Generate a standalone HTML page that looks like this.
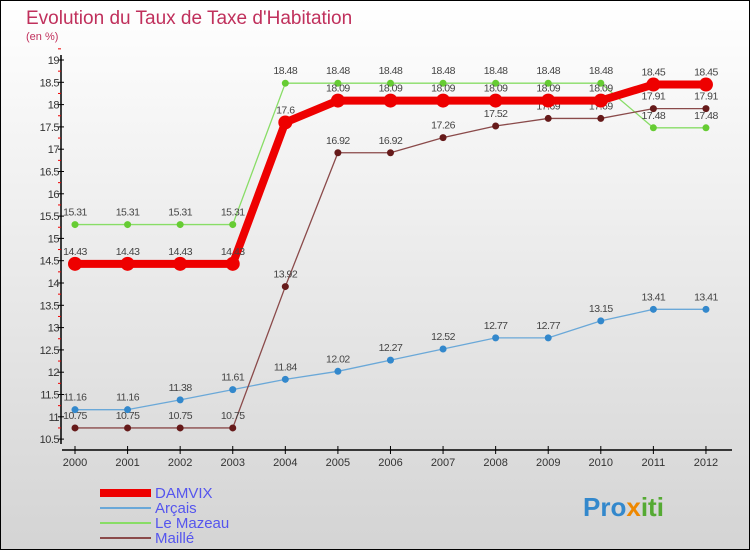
<!DOCTYPE html>
<html><head><meta charset="utf-8"><style>
html,body{margin:0;padding:0}
body{width:750px;height:550px;overflow:hidden;font-family:"Liberation Sans",sans-serif}
svg{display:block}
</style></head><body>
<svg id="c" width="750" height="550" xmlns="http://www.w3.org/2000/svg">
<defs><linearGradient id="bg" x1="0" y1="0" x2="0" y2="1"><stop offset="0" stop-color="#ffffff"/><stop offset="1" stop-color="#d4d4d4"/></linearGradient></defs>
<rect x="0.5" y="0.5" width="749" height="549" fill="url(#bg)" stroke="#000"/>
<text x="26" y="24" font-size="19" fill="#c0305c">Evolution du Taux de Taxe d'Habitation</text>
<text x="26" y="40" font-size="11" fill="#c0305c">(en %)</text>
<g id="axes"></g>
<g id="series"></g>
<g id="legend" font-size="15" fill="#5555ee">
<rect x="100" y="489" width="51" height="8" fill="#ee0000"/>
<text x="155" y="498">DAMVIX</text>
<rect x="100" y="507" width="51" height="2" fill="#6aa8d8"/>
<text x="155" y="513">Arçais</text>
<rect x="100" y="522" width="51" height="2" fill="#88dd66"/>
<text x="155" y="528">Le Mazeau</text>
<rect x="100" y="537" width="51" height="2" fill="#8a4a4a"/>
<text x="155" y="543">Maillé</text>
</g>
<g font-size="26" font-weight="bold">
<text x="583" y="516" fill="#3388cc">Pro<tspan fill="#ee8800">x</tspan><tspan fill="#55aa33">iti</tspan></text>
</g>
</svg>
<script>
const years=[2000,2001,2002,2003,2004,2005,2006,2007,2008,2009,2010,2011,2012];
const damvix=[14.43,14.43,14.43,14.43,17.6,18.09,18.09,18.09,18.09,18.09,18.09,18.45,18.45];
const arcais=[11.16,11.16,11.38,11.61,11.84,12.02,12.27,12.52,12.77,12.77,13.15,13.41,13.41];
const mazeau=[15.31,15.31,15.31,15.31,18.48,18.48,18.48,18.48,18.48,18.48,18.48,17.48,17.48];
const maille=[10.75,10.75,10.75,10.75,13.92,16.92,16.92,17.26,17.52,17.69,17.69,17.91,17.91];
const yTicks=[10.5,11,11.5,12,12.5,13,13.5,14,14.5,15,15.5,16,16.5,17,17.5,18,18.5,19];
const NS="http://www.w3.org/2000/svg";
const xs=i=>75+i*52.58;
const ys=v=>60+(19-v)*44.6;
function mk(tag,attrs,parent){const e=document.createElementNS(NS,tag);for(const k in attrs)e.setAttribute(k,attrs[k]);parent.appendChild(e);return e;}
const ax=document.getElementById('axes');
let e=mk('line',{x1:61,y1:55,x2:61,y2:444,stroke:'#000','stroke-width':1.5},ax);


yTicks.forEach(t=>{
 mk('line',{x1:58,y1:ys(t),x2:64,y2:ys(t),stroke:'#000'},ax);
 mk('line',{x1:58,y1:ys(t+0.25),x2:61,y2:ys(t+0.25),stroke:'#e00'},ax);
 const tx=mk('text',{x:59,y:ys(t)+4,'text-anchor':'end','font-size':11,fill:'#333','letter-spacing':'-0.5'},ax);
 tx.textContent=String(t);
 
 
});
e=mk('line',{x1:62,y1:450,x2:732,y2:450,stroke:'#000','stroke-width':1.5},ax);


years.forEach((y,i)=>{
 mk('line',{x1:xs(i),y1:446,x2:xs(i),y2:454,stroke:'#000'},ax);
 const tx=mk('text',{x:xs(i),y:466,'text-anchor':'middle','font-size':11,fill:'#333'},ax);
 tx.textContent=String(y);
 
 
});
const sg=document.getElementById('series');
function series(vals,color,dot,w,r,name){
 const g=mk('g',{},sg);
 
 
 const pl=mk('polyline',{points:vals.map((v,i)=>xs(i)+','+ys(v)).join(' '),fill:'none',stroke:color,'stroke-width':w,'stroke-linejoin':'round'},g);
 
 
 vals.forEach((v,i)=>{
  const c=mk('circle',{cx:xs(i),cy:ys(v),r:r,fill:dot},g);
  
  
  const t=mk('text',{x:xs(i),y:ys(v)-9,'text-anchor':'middle','font-size':10.5,fill:'#444','letter-spacing':'-0.5'},g);
  t.textContent=String(v);
  
  
 });
}
series(mazeau,'#88dd66','#66cc33',1.3,3.5,'le-mazeau');
series(arcais,'#6aa8d8','#3388cc',1.3,3.5,'arcais');
series(maille,'#8a4a4a','#661a1a',1.3,3.5,'maille');
series(damvix,'#ee0000','#ee0000',8,7,'damvix');
</script>
</body></html>
